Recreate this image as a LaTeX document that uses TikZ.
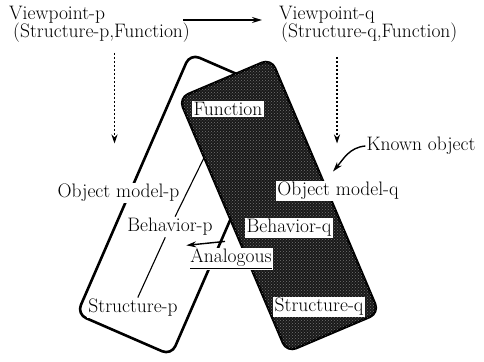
\documentclass[tikz,border=0pt]{standalone}
\usepackage{tikz}
\usetikzlibrary{arrows.meta,calc,patterns}
\definecolor{bandgrey}{gray}{0.1}
\definecolor{speckle}{gray}{0.45}

\begin{document}
\begin{tikzpicture}[x=1pt, y=1pt,
  every node/.style={font=\fontsize{19.5}{19.5}\selectfont, inner sep=1pt},
  band/.style={draw, line width=2.6pt, rounded corners=10pt},
  tag/.style={fill=white, inner sep=1.5pt},
  link/.style={line width=1.1pt},
  arrow/.style={line width=1.4pt, -{Stealth[length=10pt,width=6pt]}},
  dasharrow/.style={line width=1.4pt, dash pattern=on 2.5pt off 1.5pt,
    -{Stealth[length=9pt,width=6pt]}}]
\useasboundingbox (0,0) rectangle (484,361);
% viewpoints
\node[anchor=west] (vp1) at (8,346) {Viewpoint-p};
\node[anchor=west] (sp1) at (12,328) {(Structure-p,Function)};
\node[anchor=west] (vp2) at (278,346) {Viewpoint-q};
\node[anchor=west] (sq1) at (280,328) {(Structure-q,Function)};
% object model p
\node[band, fill=white, rotate=-23.5, minimum width=103pt,
      minimum height=284pt] (bandp) at (180.75,156.5) {};
\node[tag] (omp) at (118.5,168) {Object model-p};
\node[tag] (bp) at (170,134) {Behavior-p};
\node[tag] (sp) at (133,53) {Structure-p};
\coordinate (fnpos) at (228,252);
\draw[link] (sp) -- (bp) -- (fnpos);
% object model q
\node[band, fill=bandgrey, rotate=23, minimum width=100pt,
      minimum height=276pt,
      postaction={pattern=crosshatch dots, pattern color=speckle}]
      (bandq) at (279,155.5) {};
\node[tag] (fn) at (fnpos) {Function};
\node[tag] (omq) at (338,170) {Object model-q};
\node[tag] (bq) at (289,133) {Behavior-q};
\node[tag] (an) at (231,102) {\underline{Analogous}};
\node[tag] (sq) at (319,54) {Structure-q};
\node (ko) at (421,215) {Known object};
% arrows
\draw[arrow] ($(sp1.east |- vp1.east)+(-8,-5)$) -- ($(vp2.west)+(-16,-5)$);
\draw[dasharrow] ($(sp1.south -| omp.north)+(-4,-9)$) -- ($(omp.north)+(-4,39)$);
\draw[dasharrow] ($(sq1.south -| omq.north)+(-1,-13)$) -- ($(omq.north)+(-1,37)$);
\draw[arrow] (ko.west) to[out=185,in=50] ($(omq.north)+(-5,9)$);
\draw[arrow] ($(an.north)+(-6,6)$) -- ($(bp.south east)+(-28,-8)$);
\end{tikzpicture}
\end{document}
